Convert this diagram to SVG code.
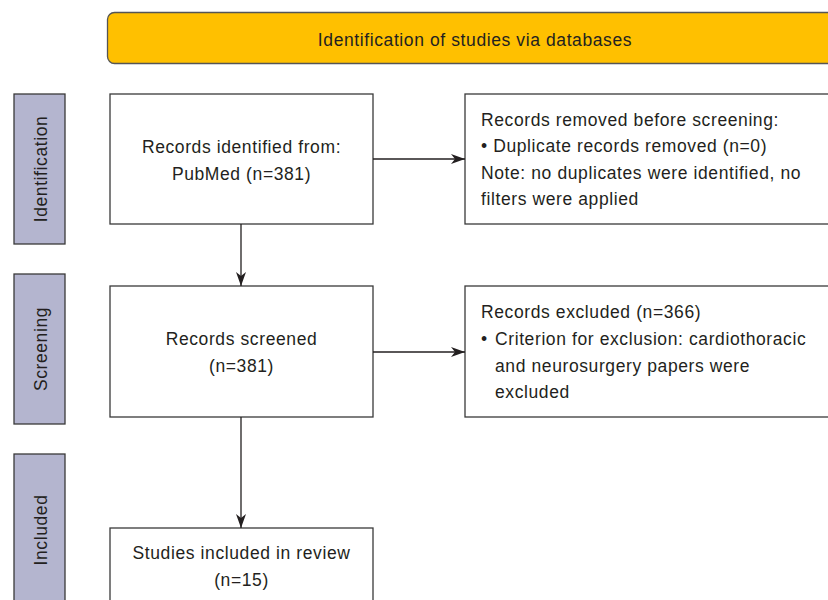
<svg xmlns="http://www.w3.org/2000/svg" width="828" height="600" viewBox="0 0 828 600">
<defs>
<marker id="ah" markerWidth="14" markerHeight="10" refX="14" refY="5" orient="auto" markerUnits="userSpaceOnUse">
<path d="M0,0 L14,5 L0,10 L4,5 Z" fill="#231f20"/>
</marker>
<style>
text{font-family:"Liberation Sans",Arial,sans-serif;font-size:17.5px;letter-spacing:0.6px;fill:#231f20}
.box{fill:#fff;stroke:#3a3a3a;stroke-width:1.3}
.side{fill:#b4b5cf;stroke:#3a3a3a;stroke-width:1.3}
.c{text-anchor:middle}
.conn{stroke:#231f20;stroke-width:1.3;fill:none;marker-end:url(#ah)}
</style>
</defs>
<rect width="828" height="600" fill="#fff"/>
<g id="header">
<rect x="107.5" y="12.5" width="740" height="51" rx="7" fill="#ffc000" stroke="#555" stroke-width="1.3"/>
<text x="475" y="46" class="c">Identification of studies via databases</text>
</g>
<g id="side-identification">
<rect class="side" x="14" y="94" width="51" height="150"/>
<text class="c" transform="translate(47,169) rotate(-90)">Identification</text>
</g>
<g id="side-screening">
<rect class="side" x="14" y="274" width="51" height="150"/>
<text class="c" transform="translate(47,349) rotate(-90)">Screening</text>
</g>
<g id="side-included">
<rect class="side" x="14" y="454" width="51" height="160"/>
<text class="c" transform="translate(47,530) rotate(-90)">Included</text>
</g>
<g id="records-identified">
<rect class="box" x="110" y="94" width="263" height="130"/>
<text class="c" x="241.5" y="153">Records identified from:</text>
<text class="c" x="241.5" y="180">PubMed (n=381)</text>
</g>
<g id="records-removed">
<rect class="box" x="465" y="94" width="380" height="130"/>
<text x="481" y="126">Records removed before screening:</text>
<text x="481" y="152">• Duplicate records removed (n=0)</text>
<text x="481" y="179">Note: no duplicates were identified, no</text>
<text x="481" y="205">filters were applied</text>
</g>
<g id="records-screened">
<rect class="box" x="110" y="286" width="263" height="131"/>
<text class="c" x="241.5" y="345">Records screened</text>
<text class="c" x="241.5" y="372">(n=381)</text>
</g>
<g id="records-excluded">
<rect class="box" x="465" y="286" width="380" height="131"/>
<text x="481" y="318">Records excluded (n=366)</text>
<text x="481" y="345">•</text>
<text x="495" y="345">Criterion for exclusion: cardiothoracic</text>
<text x="495" y="372">and neurosurgery papers were</text>
<text x="495" y="398">excluded</text>
</g>
<g id="studies-included">
<rect class="box" x="110" y="528" width="263" height="90"/>
<text class="c" x="241.5" y="559">Studies included in review</text>
<text class="c" x="241.5" y="586">(n=15)</text>
</g>
<g id="connectors">
<line class="conn" x1="373" y1="159" x2="465" y2="159"/>
<line class="conn" x1="241" y1="224" x2="241" y2="286"/>
<line class="conn" x1="373" y1="352" x2="465" y2="352"/>
<line class="conn" x1="241" y1="417" x2="241" y2="528"/>
</g>
</svg>
